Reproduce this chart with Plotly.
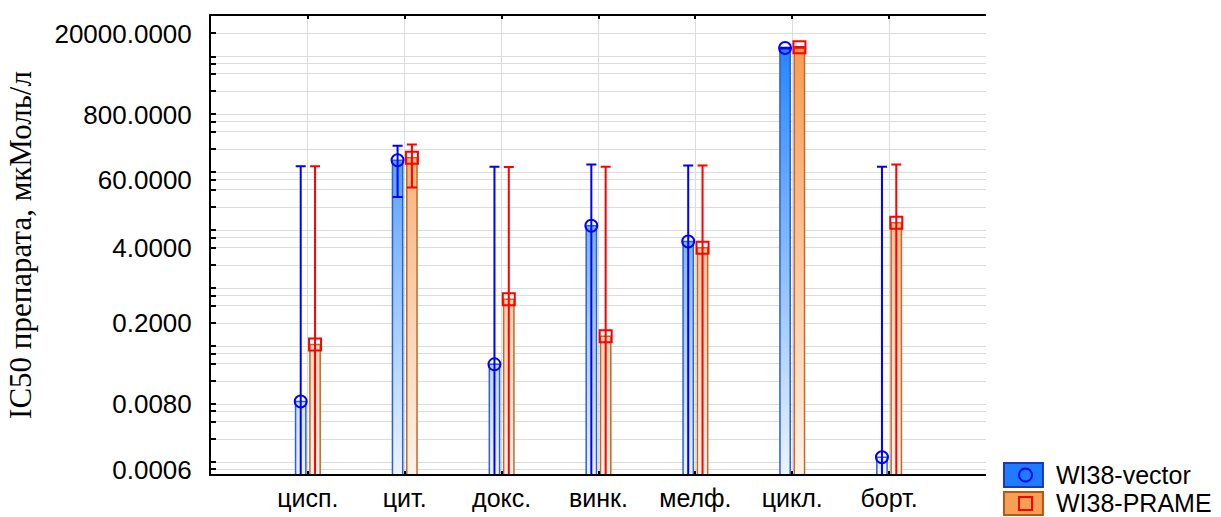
import numpy as np
import plotly.graph_objects as go

# IC50 values (µM) per drug for the two cell lines, with standard deviations
drugs = ["цисп.", "цит.", "докс.", "винк.", "мелф.", "цикл.", "борт."]
vector_ic50 = [0.0089, 130, 0.039, 9.6, 5.15, 11200, 0.00097]
vector_sd = [102, 100, 100, 100, 100, 150, 100]
prame_ic50 = [0.086, 143, 0.52, 0.119, 4.0, 11500, 10.8]
prame_sd = [102, 99, 99, 100, 101, 150, 99]
series_names = ["WI38-vector", "WI38-PRAME"]

# labelled ticks on the log axis
ytick_values = [0.0006, 0.008, 0.2, 4, 60, 800, 20000]
ytick_labels = ["0.0006", "0.0080", "0.2000", "4.0000", "60.0000", "800.0000", "20000.0000"]

Y_MIN, Y_MAX = 0.0005, 40000
BAR_BASE = 1e-4          # below the visible range, so bars rise from the axis
OFFSET = 0.074           # shift of each series from the category centre
HALF_W = 0.053           # half of the bar width

# grid at 2, 4, 6, 8 x 10^k; every fifth line carries a label
grid_vals = [m * 10.0 ** k for k in range(-4, 5) for m in (2, 4, 6, 8)]
grid_vals = [v for v in grid_vals if Y_MIN <= v <= 20000 * 1.0001]
grid_text = []
for v in grid_vals:
    hit = [lab for tv, lab in zip(ytick_values, ytick_labels) if np.isclose(v, tv)]
    grid_text.append(hit[0] if hit else "")
right_ticks = [4 * 10.0 ** k for k in range(-3, 4)]

x_idx = np.arange(len(drugs))


def bar_outline(centres, values):
    xs, ys = [], []
    for c, v in zip(centres, values):
        xs += [c - HALF_W, c - HALF_W, c + HALF_W, c + HALF_W, c - HALF_W, None]
        ys += [BAR_BASE, v, v, BAR_BASE, BAR_BASE, None]
    return xs, ys


series = [
    dict(name=series_names[0], vals=vector_ic50, sd=vector_sd, shift=-OFFSET,
         light="rgb(236,244,255)", dark="rgb(22,126,255)", edge="#2B5FD8",
         mcolor="#0000FF", symbol="circle-open"),
    dict(name=series_names[1], vals=prame_ic50, sd=prame_sd, shift=OFFSET,
         light="rgb(255,242,232)", dark="rgb(244,150,72)", edge="#C0692A",
         mcolor="#FF0000", symbol="square-open"),
]

fig = go.Figure()

for s in series:
    centres = x_idx + s["shift"]
    bx, by = bar_outline(centres, s["vals"])
    fig.add_trace(go.Scatter(
        x=bx, y=by, mode="lines", fill="toself",
        line=dict(color=s["edge"], width=1.5),
        fillgradient=dict(type="vertical",
                          colorscale=[[0, s["light"]], [1, s["dark"]]],
                          start=Y_MIN, stop=Y_MAX),
        showlegend=False, hoverinfo="skip",
    ))

for s in series:
    centres = x_idx + s["shift"]
    fig.add_trace(go.Scatter(
        x=centres, y=s["vals"], mode="markers", name=s["name"],
        marker=dict(symbol=s["symbol"], size=12, color=s["mcolor"],
                    line=dict(width=2, color=s["mcolor"])),
        error_y=dict(type="data", array=s["sd"], symmetric=True,
                     color=s["mcolor"], thickness=2, width=5),
        showlegend=False,
    ))

# legend drawn as boxes with the series symbol inside
legend_rows = [
    dict(name=series_names[0], fill="#1F7BFF", edge="#2236B8", sym="circle",
         mcolor="#0000FF", y0=0.0240, y1=-0.0284),
    dict(name=series_names[1], fill="#F5A052", edge="#B5561A", sym="rect",
         mcolor="#FF0000", y0=-0.0393, y1=-0.0895),
]
shapes = []
annotations = []
for row in legend_rows:
    shapes.append(dict(type="rect", xref="paper", yref="paper",
                       x0=1.0232, x1=1.0735, y0=row["y1"], y1=row["y0"],
                       fillcolor=row["fill"], line=dict(color=row["edge"], width=2)))
    yc = (row["y0"] + row["y1"]) / 2
    shapes.append(dict(type=row["sym"], xref="paper", yref="paper",
                       x0=1.0426, x1=1.0594, y0=yc - 0.0142, y1=yc + 0.0142,
                       line=dict(color=row["mcolor"], width=2)))
    annotations.append(dict(text=row["name"], xref="paper", yref="paper",
                            x=1.089, y=yc, xanchor="left", yanchor="middle",
                            showarrow=False, borderpad=0,
                            font=dict(size=25, color="black")))

fig.update_layout(
    width=1221, height=517,
    margin=dict(l=211, r=235, t=16, b=43),
    paper_bgcolor="white", plot_bgcolor="white",
    font=dict(family="Liberation Sans, Arial, sans-serif", size=26, color="black"),
    showlegend=False,
    shapes=shapes,
    annotations=annotations,
    xaxis=dict(
        range=[-1, 7], tickmode="array", tickvals=list(x_idx), ticktext=drugs,
        showgrid=True, gridcolor="#DCDCDC", gridwidth=1, zeroline=False,
        ticks="inside", ticklen=3, tickwidth=2, tickcolor="black",
        showline=True, linecolor="black", linewidth=2, mirror="ticks",
        ticklabelstandoff=1, automargin=False,
        tickfont=dict(size=25),
    ),
    yaxis=dict(
        type="log", range=[np.log10(Y_MIN), np.log10(Y_MAX)],
        tickmode="array", tickvals=grid_vals, ticktext=grid_text,
        showgrid=True, gridcolor="#DCDCDC", gridwidth=1, zeroline=False,
        ticks="inside", ticklen=5, tickwidth=2, tickcolor="black",
        showline=True, linecolor="black", linewidth=2,
        ticklabelstandoff=12, automargin=False,
        title=dict(text="IC50 препарата, мкМоль/л", standoff=14,
                   font=dict(family="Liberation Serif, Times New Roman, serif", size=31)),
    ),
    yaxis2=dict(
        type="log", range=[np.log10(Y_MIN), np.log10(Y_MAX)], overlaying="y",
        side="right", anchor="x", tickmode="array", tickvals=right_ticks,
        showticklabels=False, showgrid=False, zeroline=False,
        ticks="inside", ticklen=4, tickwidth=2, tickcolor="black",
        showline=True, linecolor="black", linewidth=2, automargin=False,
    ),
)

fig.write_html("out.html")
